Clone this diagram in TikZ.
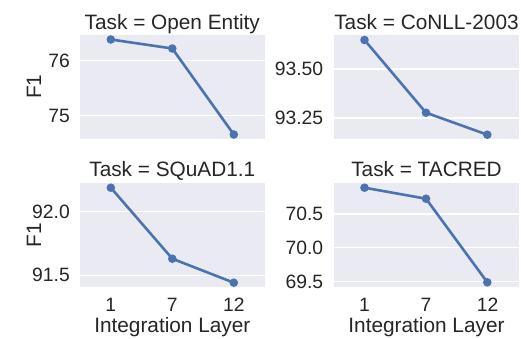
\documentclass[tikz,border=0pt]{standalone}
\usepackage{fontspec}
\setmainfont{Liberation Sans}
\definecolor{sbbg}{HTML}{EAEAF2}
\definecolor{sbblue}{HTML}{4C72B0}
\definecolor{sbtext}{HTML}{262626}
\begin{document}
\begin{tikzpicture}[x=1pt,y=-1pt,
  panel/.style={fill=sbbg,draw=none},
  grid/.style={draw=white,line width=1.1pt},
  dataline/.style={draw=sbblue,line width=2.6pt,line join=round},
  dot/.style={circle,fill=sbblue,inner sep=0pt,minimum size=8.6pt},
  ttl/.style={text=sbtext,font=\fontsize{20.8}{24}\selectfont,anchor=base},
  ytick/.style={text=sbtext,font=\fontsize{19.3}{22}\selectfont,anchor=east,inner sep=0pt},
  xtick/.style={text=sbtext,font=\fontsize{19.3}{22}\selectfont,anchor=base},
  axlab/.style={text=sbtext,font=\fontsize{20.8}{24}\selectfont},
]
\useasboundingbox (0,0) rectangle (521,338);
\fill[white] (0,0) rectangle (521,338);

% ---------- panel backgrounds
\fill[panel] (80,34.5) rectangle (264.5,138.7);
\fill[panel] (334,34.5) rectangle (519,138.7);
\fill[panel] (80,183.3) rectangle (264.5,286.7);
\fill[panel] (334,183.3) rectangle (519,286.7);

% ---------- grid lines + y tick labels
% Open Entity
\draw[grid] (80,60.7) -- (264.5,60.7);
\draw[grid] (80,115.7) -- (264.5,115.7);
\node[ytick] (oe76) at (70,60.7) {76};
\node[ytick] (oe75) at (70,115.7) {75};
% CoNLL
\draw[grid] (334,69) -- (519,69);
\draw[grid] (334,118) -- (519,118);
\node[ytick] (co350) at (323.3,69) {93.50};
\node[ytick] (co325) at (323.3,118) {93.25};
% SQuAD
\draw[grid] (80,211.7) -- (264.5,211.7);
\draw[grid] (80,275.3) -- (264.5,275.3);
\node[ytick] (sq920) at (70,211.7) {92.0};
\node[ytick] (sq915) at (70,275.3) {91.5};
% TACRED
\draw[grid] (334,214) -- (519,214);
\draw[grid] (334,247.7) -- (519,247.7);
\draw[grid] (334,281.7) -- (519,281.7);
\node[ytick] (ta705) at (323.3,214) {70.5};
\node[ytick] (ta700) at (323.3,247.7) {70.0};
\node[ytick] (ta695) at (323.3,281.7) {69.5};

% ---------- titles
\node[ttl] (t1) at (172.3,29) {Task = Open Entity};
\node[ttl] (t2) at (426.5,29) {Task = CoNLL-2003};
\node[ttl] (t3) at (172.3,176.7) {Task = SQuAD1.1};
\node[ttl] (t4) at (426.5,176.7) {Task = TACRED};

% ---------- axis labels
\node[axlab,rotate=90] (f1a) at (34,86.6) {F1};
\node[axlab,rotate=90] (f1b) at (34,235) {F1};
\node[xtick] (xl1) at (110.8,311.7) {1};
\node[xtick] (xl7) at (172.3,311.7) {7};
\node[xtick] (xl12) at (233.8,311.7) {12};
\node[xtick] (xr1) at (364.5,311.7) {1};
\node[xtick] (xr7) at (426,311.7) {7};
\node[xtick] (xr12) at (487.5,311.7) {12};
\node[ttl] (xlabL) at (172.3,332.7) {Integration Layer};
\node[ttl] (xlabR) at (426.5,332.7) {Integration Layer};

% ---------- data
% Open Entity
\coordinate (a1) at (110.8,39.5);
\coordinate (a2) at (172.3,48.5);
\coordinate (a3) at (233.8,134.5);
% CoNLL
\coordinate (b1) at (364.5,40);
\coordinate (b2) at (426,112.7);
\coordinate (b3) at (487.3,134.7);
% SQuAD
\coordinate (c1) at (110.8,187.7);
\coordinate (c2) at (172.3,258.7);
\coordinate (c3) at (233.8,282.7);
% TACRED
\coordinate (d1) at (364.5,187.7);
\coordinate (d2) at (426,198.7);
\coordinate (d3) at (487.3,282.3);

\foreach \p in {a,b,c,d}{
  \draw[dataline] (\p1) -- (\p2) -- (\p3);
  \foreach \i in {1,2,3}{ \node[dot] (\p\i dot) at (\p\i) {}; }
}
\end{tikzpicture}
\end{document}
